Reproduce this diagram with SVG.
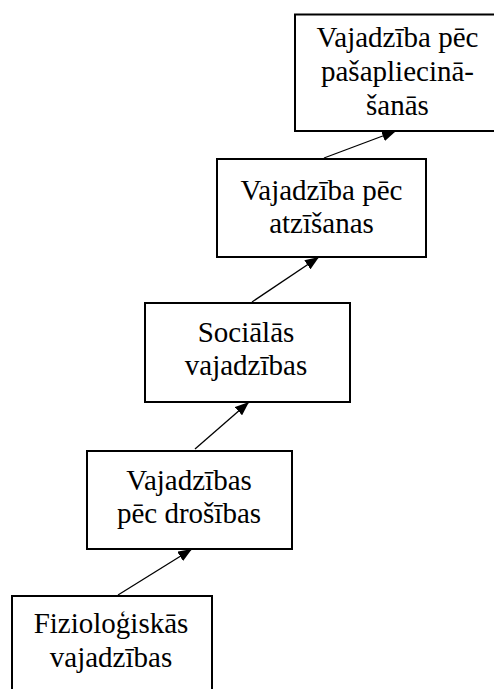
<svg xmlns="http://www.w3.org/2000/svg" width="494" height="689" viewBox="0 0 494 689">
  <style>
    .box rect { fill: #fff; stroke: #000; stroke-width: 2; }
    .box text { font-family: "Liberation Serif", "Times New Roman", serif; font-size: 29px; fill: #000; text-anchor: middle; }
    .conn line { stroke: #000; stroke-width: 1.3; marker-end: url(#arrow); }
  </style>
  <defs>
    <marker id="arrow" viewBox="0 0 14 11" refX="14" refY="5.5" markerWidth="14" markerHeight="11" markerUnits="userSpaceOnUse" orient="auto">
      <path d="M0,0 L14,5.5 L0,11 z" fill="#000"/>
    </marker>
  </defs>
  <rect width="494" height="689" fill="#fff"/>

  <g id="self-actualization" class="box">
    <rect x="295" y="14.5" width="205" height="116.5"/>
    <text x="397.5" y="47">Vajadzība pēc</text>
    <text x="397.5" y="81">pašapliecinā-</text>
    <text x="397.5" y="115">šanās</text>
  </g>

  <g id="esteem" class="box">
    <rect x="217" y="159" width="209" height="98"/>
    <text x="321.5" y="200">Vajadzība pēc</text>
    <text x="321.5" y="233">atzīšanas</text>
  </g>

  <g id="social" class="box">
    <rect x="145" y="303" width="205" height="99"/>
    <text x="246" y="342">Sociālās</text>
    <text x="246" y="375">vajadzības</text>
  </g>

  <g id="safety" class="box">
    <rect x="87" y="451" width="205" height="98"/>
    <text x="189" y="490">Vajadzības</text>
    <text x="189" y="523">pēc drošības</text>
  </g>

  <g id="physiological" class="box">
    <rect x="12" y="596" width="200" height="100"/>
    <text x="111" y="633">Fizioloģiskās</text>
    <text x="111" y="667">vajadzības</text>
  </g>

  <!-- upward arrows from each box to the one above it -->
  <g id="connectors" class="conn">
    <line x1="118" y1="595" x2="192" y2="549"/>
    <line x1="195" y1="449" x2="249" y2="402"/>
    <line x1="252" y1="302" x2="319" y2="257"/>
    <line x1="324" y1="158" x2="396" y2="131"/>
  </g>
</svg>
